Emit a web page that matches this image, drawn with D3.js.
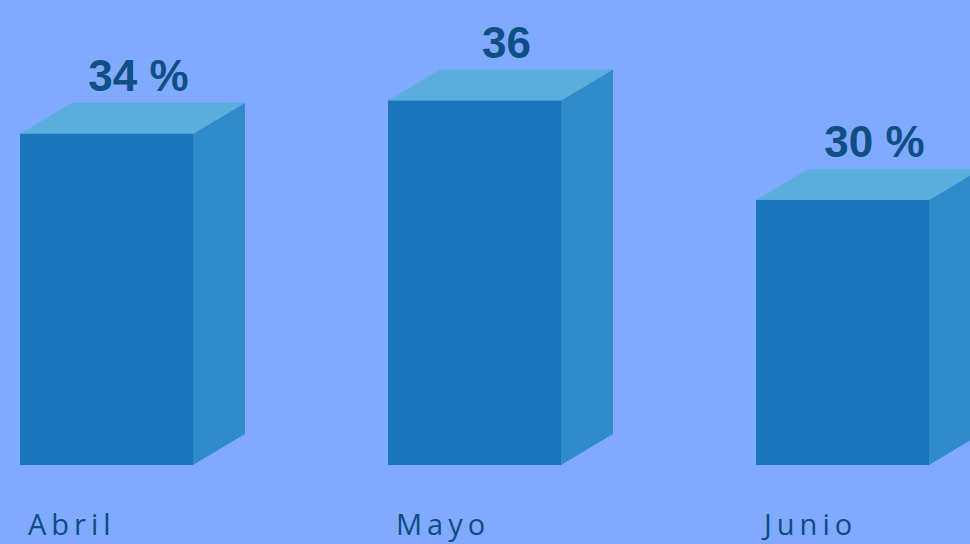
<!DOCTYPE html>
<html>
<head>
<meta charset="utf-8">
<script src="https://cdn.jsdelivr.net/npm/d3@7"></script>
<style>
  html, body { margin: 0; padding: 0; background: #80aaff; }
</style>
</head>
<body>
<div id="chart"></div>
<script>
const months = ["Abril", "Mayo", "Junio"]
const values = [34, 36, 30]
const valueLabels = ["34 %", "36", "30 %"]

var width = 970
var height = 544
var depthX = 52, depthY = -31

var svg = d3.select("#chart")
    .append("svg")
    .attr("width", width)
    .attr("height", height)
    .style("display", "block")

svg.append("rect")
    .attr("width", width)
    .attr("height", height)
    .attr("fill", "#80aaff")

var x = d3.scaleBand()
    .domain(months)
    .range([20, 929])
    .paddingInner(0.53)
    .paddingOuter(0)

// y domain does not start at zero, the original picture is cropped like that
var y = d3.scaleLinear()
    .domain([14, 37])
    .range([465, 84])

var bars = svg.selectAll("g.bar")
    .data(months)
    .enter().append("g")
    .attr("class", "bar")

// right side
bars.append("path")
    .attr("d", function (d, i) {
        var x1 = x(d) + x.bandwidth(), top = y(values[i]), bottom = y(14)
        return "M" + x1 + "," + top + "L" + (x1 + depthX) + "," + (top + depthY) +
            "L" + (x1 + depthX) + "," + (bottom + depthY) + "L" + x1 + "," + bottom + "Z"
    })
    .attr("fill", "#308bcb")

// top face
bars.append("path")
    .attr("d", function (d, i) {
        var x0 = x(d), x1 = x(d) + x.bandwidth(), top = y(values[i])
        return "M" + x0 + "," + top + "L" + (x0 + depthX) + "," + (top + depthY) +
            "L" + (x1 + depthX) + "," + (top + depthY) + "L" + x1 + "," + top + "Z"
    })
    .attr("fill", "#5aaddd")

// front face
bars.append("rect")
    .attr("x", d => x(d))
    .attr("y", (d, i) => y(values[i]))
    .attr("width", x.bandwidth())
    .attr("height", (d, i) => y(14) - y(values[i]))
    .attr("fill", "#1b75bb")

// value labels
bars.append("text")
    .attr("x", d => x(d) + x.bandwidth() / 2 + 32)
    .attr("y", (d, i) => y(values[i]) + depthY - 12)
    .attr("text-anchor", "middle")
    .style("font-family", "'Liberation Sans', Arial, sans-serif")
    .style("font-weight", "bold")
    .style("font-size", "44px")
    .style("fill", "#104f86")
    .text((d, i) => valueLabels[i])

// month labels
bars.append("text")
    .attr("x", d => x(d) + 8)
    .attr("y", 535)
    .style("font-family", "'Open Sans', sans-serif")
    .style("font-size", "29px")
    .style("letter-spacing", "5px")
    .style("fill", "#0f4c81")
    .text(d => d)
</script>
</body>
</html>
